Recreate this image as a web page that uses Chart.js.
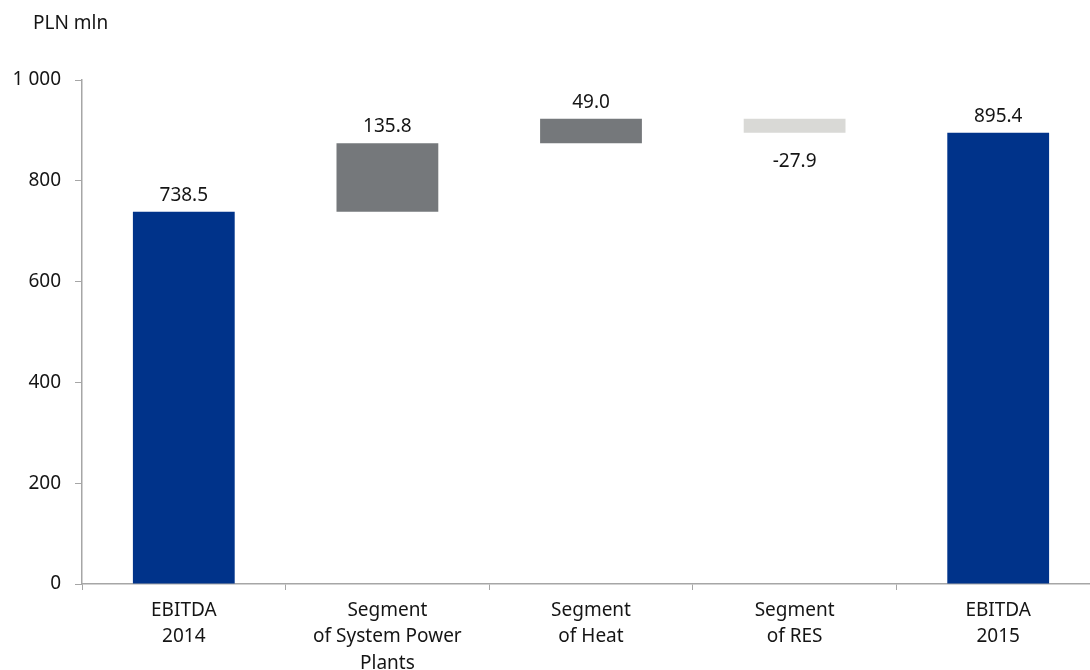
<!DOCTYPE html>
<html>
  <head>
    <title>EBITDA bridge 2014 - 2015</title>
    <script src="https://cdn.jsdelivr.net/npm/chart.js"></script>
    <style>
      html, body { margin: 0; padding: 0; background: #fff; overflow: hidden; }
      #wrap { width: 1100px; height: 670px; }
    </style>
  </head>
  <body>
    <div id="wrap">
      <canvas id="bridge"></canvas>
    </div>

    <script>
      // categories and values (PLN mln)
      const categories = [
        ['EBITDA', '2014'],
        ['Segment', 'of System Power', 'Plants'],
        ['Segment', 'of Heat'],
        ['Segment', 'of RES'],
        ['EBITDA', '2015']
      ];
      const changes = [738.5, 135.8, 49.0, -27.9, 895.4];
      const isTotal = [true, false, false, false, true];
      const yTicks = [0, 200, 400, 600, 800, 1000];

      // floating ranges: totals start at zero, deltas stack on the running sum
      let running = 0;
      const ranges = changes.map((v, i) => {
        if (isTotal[i]) { running = v; return [0, v]; }
        const start = running;
        running = +(running + v).toFixed(1);
        return [start, running];
      });

      const colors = changes.map((v, i) => isTotal[i] ? '#00338a' : (v >= 0 ? '#75787b' : '#d9d9d6'));

      const fontFamily = '"Noto Sans", "Open Sans", sans-serif';
      const textColor = '#151515';

      // value labels above rising bars, below falling ones
      const valueLabels = {
        id: 'valueLabels',
        afterDatasetsDraw(chart) {
          const ctx = chart.ctx;
          const meta = chart.getDatasetMeta(0);
          ctx.save();
          ctx.font = '19px ' + fontFamily;
          ctx.fillStyle = textColor;
          ctx.textAlign = 'center';
          ctx.textBaseline = 'alphabetic';
          meta.data.forEach((bar, i) => {
            const v = changes[i];
            const txt = v.toFixed(1);
            const top = Math.min(bar.y, bar.base);
            const bottom = Math.max(bar.y, bar.base);
            if (v >= 0) {
              ctx.fillText(txt, bar.x, top - 11);
            } else {
              ctx.fillText(txt, bar.x, bottom + 34);
            }
          });
          ctx.restore();
        }
      };

      // unit caption in the top-left corner
      const unitCaption = {
        id: 'unitCaption',
        afterDraw(chart) {
          const ctx = chart.ctx;
          ctx.save();
          ctx.font = '19px ' + fontFamily;
          ctx.fillStyle = textColor;
          ctx.textAlign = 'left';
          ctx.textBaseline = 'alphabetic';
          ctx.fillText('PLN mln', 33, 29);
          ctx.restore();
        }
      };

      new Chart(document.getElementById('bridge'), {
        type: 'bar',
        data: {
          labels: categories,
          datasets: [{
            data: ranges,
            backgroundColor: colors,
            borderWidth: 0,
            categoryPercentage: 1,
            barPercentage: 0.5
          }]
        },
        options: {
          responsive: true,
          maintainAspectRatio: false,
          animation: false,
          layout: { padding: { top: 80, right: 0, bottom: 0, left: 0 } },
          plugins: {
            legend: { display: false },
            tooltip: { enabled: false }
          },
          scales: {
            x: {
              offset: true,
              afterFit(scale) { scale.height = 86; },
              grid: {
                offset: true,
                drawOnChartArea: false,
                drawTicks: true,
                tickLength: 6,
                color: '#a6a6a6'
              },
              border: { color: '#a6a6a6', width: 1.5 },
              ticks: {
                color: textColor,
                font: { family: fontFamily, size: 19, lineHeight: 1.4 },
                padding: 7,
                maxRotation: 0,
                autoSkip: false
              }
            },
            y: {
              min: 0,
              max: 1000,
              afterBuildTicks(scale) {
                scale.ticks = yTicks.map(v => ({ value: v }));
              },
              afterFit(scale) { scale.width = 82; },
              grid: {
                drawOnChartArea: false,
                drawTicks: true,
                tickLength: 7,
                color: '#a6a6a6'
              },
              border: { color: '#a6a6a6', width: 1.5 },
              ticks: {
                color: textColor,
                font: { family: fontFamily, size: 19 },
                padding: 14,
                callback: v => String(v).replace(/\B(?=(\d{3})+(?!\d))/g, ' ')
              }
            }
          }
        },
        plugins: [valueLabels, unitCaption]
      });
    </script>
  </body>
</html>
